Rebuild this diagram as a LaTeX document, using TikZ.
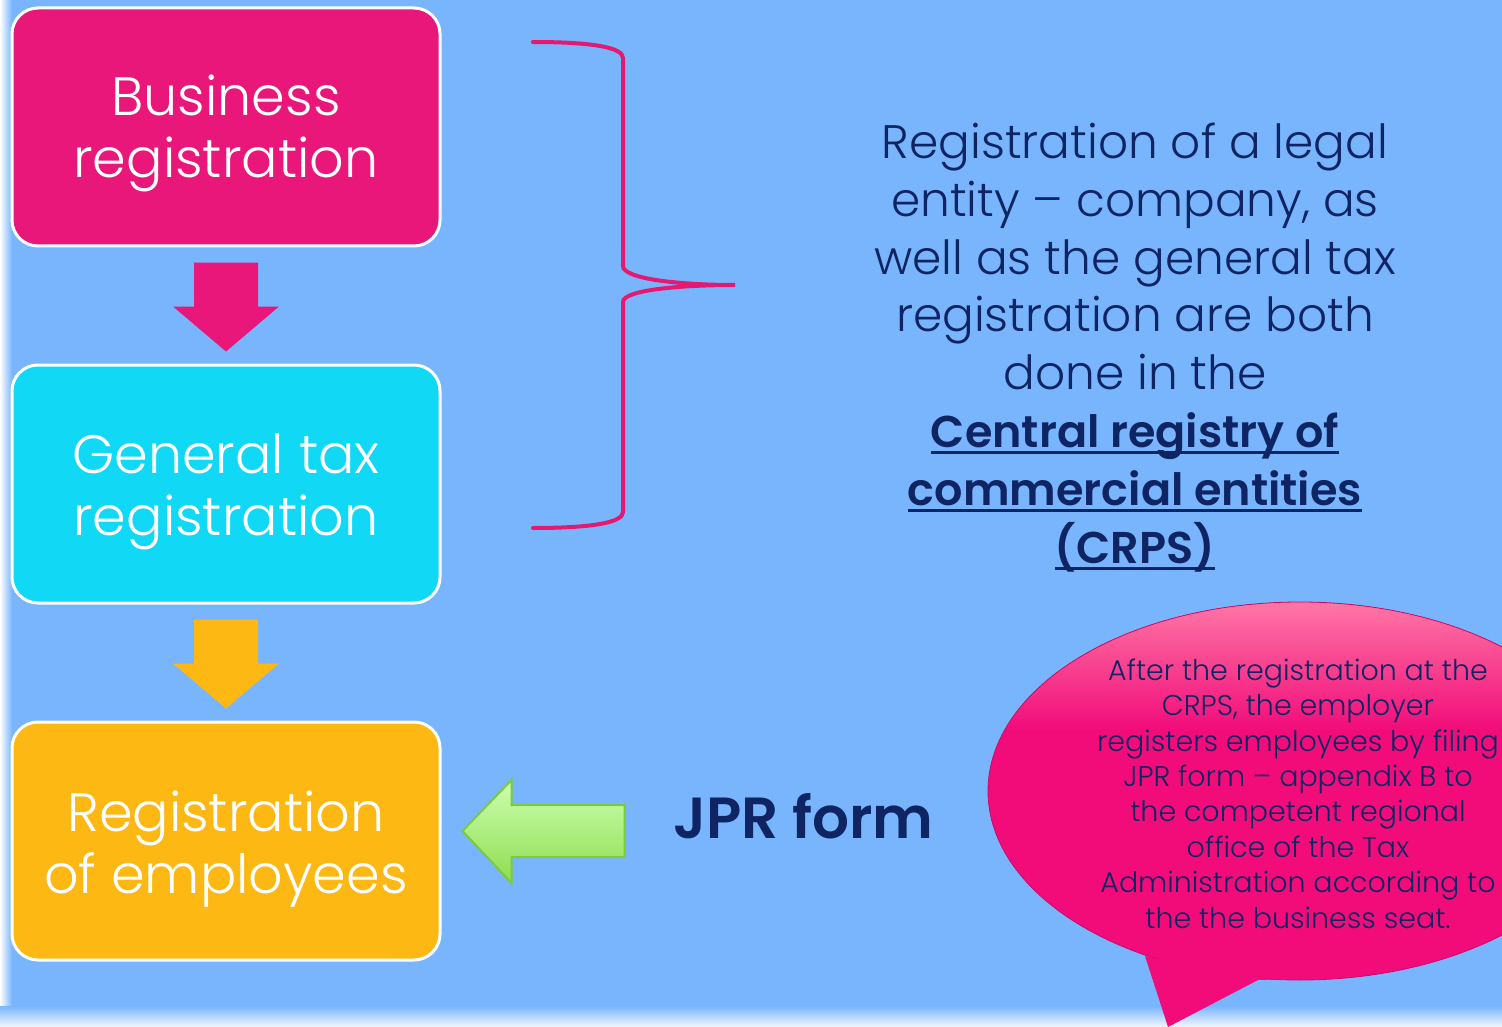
\documentclass[tikz,border=0pt]{standalone}
\usepackage{fontspec}
\IfFontExistsTF{Poppins Light}{\setmainfont{Poppins Light}[BoldFont=Poppins SemiBold]}{\setmainfont{Poppins}}
\usetikzlibrary{calc}
\definecolor{bgblue}{HTML}{78B5FD}
\definecolor{magbox}{HTML}{E91779}
\definecolor{cyanbox}{HTML}{11D9F5}
\definecolor{ambbox}{HTML}{FDB813}
\definecolor{navy}{HTML}{0F2463}
\definecolor{bubmag}{HTML}{F20C7A}
\definecolor{bubtop}{HTML}{FF78A6}
\definecolor{gfill1}{HTML}{CCFFB0}
\definecolor{gfill2}{HTML}{8FDC50}
\definecolor{gedge}{HTML}{7CCB38}
\definecolor{bracecol}{HTML}{E4196F}
\newcommand\myul[1]{\setbox0\hbox{#1}\rlap{\rule[-7pt]{\wd0}{3pt}}\box0}
\tikzset{
  stepbox/.style={draw=white, line width=3pt, rounded corners=26pt,
    minimum width=428pt, minimum height=238pt, inner sep=0pt},
  steptext/.style={align=center, text=white, anchor=base,
    font=\fontsize{54}{62}\selectfont, inner sep=0pt},
}
\begin{document}
\begin{tikzpicture}[x=1pt,y=-1pt]
\useasboundingbox (0,0) rectangle (1502,1027);
% background
\fill[bgblue] (0,0) rectangle (1502,1027);
\shade[left color=white, right color=bgblue] (0,0) rectangle (12,1027);
\shade[top color=bgblue, bottom color=white!90!bgblue] (0,1006) rectangle (1502,1027);

% boxes
\node[stepbox, fill=magbox] (b1) at (226,127) {};
\node[stepbox, fill=cyanbox] (b2) at (226,484) {};
\node[stepbox, fill=ambbox] (b3) at (226,841) {};
\node[steptext] (t1) at ($(b1.center)+(0,51)$) {Business\\registration};
\node[steptext] (t2) at ($(b2.center)+(0,51)$) {General tax\\registration};
\node[steptext] (t3) at ($(b3.center)+(0,52)$) {Registration\\of employees};

% block arrows between boxes
\fill[magbox] ($(b1.south)+(-32,15)$) -- ($(b1.south)+(32,15)$) -- ($(b1.south)+(32,59)$)
  -- ($(b1.south)+(53,59)$) -- ($(b1.south)+(0,104)$) -- ($(b1.south)+(-53,59)$)
  -- ($(b1.south)+(-32,59)$) -- cycle;
\fill[ambbox] ($(b2.south)+(-32,15)$) -- ($(b2.south)+(32,15)$) -- ($(b2.south)+(32,59)$)
  -- ($(b2.south)+(53,59)$) -- ($(b2.south)+(0,104)$) -- ($(b2.south)+(-53,59)$)
  -- ($(b2.south)+(-32,59)$) -- cycle;

% JPR form label and green arrow
\node[anchor=base west, text=navy, font=\fontsize{58}{64}\selectfont\bfseries, inner sep=0pt] (jpr) at (673,838) {JPR form};
\coordinate (gtip) at ($(b3.east)+(21,-10)$);
\shade[top color=gfill1, bottom color=gfill2, draw=gedge, line width=2pt]
  (gtip) -- ++(49,-51) -- ++(0,25) -- ++(113,0) -- ++(0,52) -- ++(-113,0) -- ++(0,26) -- cycle;

% brace
\coordinate (brtop) at (533,42);
\coordinate (brtip) at (735,285);
\coordinate (brbot) at (533,528);
\draw[bracecol, line width=4pt, line cap=round]
  (brtop) .. controls (590,42) and (623,47) .. (623,58) -- (623,266)
  .. controls (623,279) and (680,285) .. (brtip)
  .. controls (680,285) and (623,290) .. (623,302) -- (623,512)
  .. controls (623,523) and (590,528) .. (brbot);

% right text
\node[text=navy, align=center, font=\fontsize{47}{57.8}\selectfont, inner sep=0pt, anchor=base] (rt) at (1135,563)
 {Registration of a legal\\entity -- company, as\\well as the general tax\\registration are both\\done in the\\
  {\fontsize{44.5}{57.8}\selectfont\textbf{\myul{Central registry of}}}\\{\fontsize{44.5}{57.8}\selectfont\textbf{\myul{commercial entities}}}\\{\fontsize{44.5}{57.8}\selectfont\textbf{\myul{(CRPS)}}}};

% speech bubble
\coordinate (tl) at (1145,956);
\coordinate (tb) at (1168,1027);
\coordinate (tr) at (1258,980);
\fill[bubmag] (1300,791) ellipse [x radius=312, y radius=189];
\begin{scope}
  \clip (1300,791) ellipse [x radius=312, y radius=189];
  \shade[top color=bubtop, bottom color=bubmag] (980,600) rectangle (1620,730);
\end{scope}
\draw[bubmag!85!black, line width=0.8pt] (1300,791) ellipse [x radius=312, y radius=189];
\fill[bubmag] (tl) -- (tb) -- (tr) -- (1290,979) -- (1200,968) -- cycle;
\node[text=navy, align=center, font=\fontsize{28.5}{35.4}\selectfont, inner sep=0pt, anchor=base] (bt) at (1298,928)
 {After the registration at the\\CRPS, the employer\\registers employees by filing\\JPR form -- appendix B to\\the competent regional\\office of the Tax\\Administration according to\\the the business seat.};
\end{tikzpicture}
\end{document}
